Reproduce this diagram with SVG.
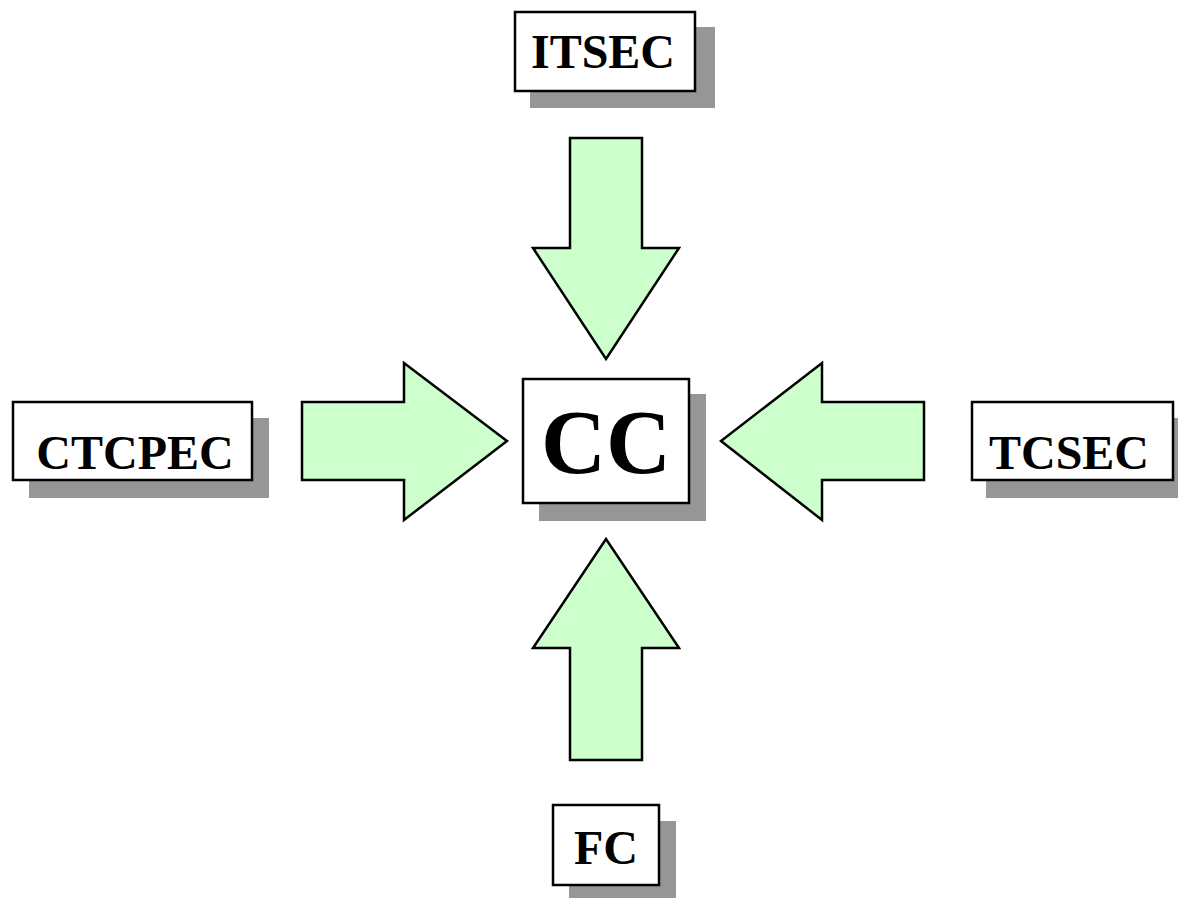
<svg xmlns="http://www.w3.org/2000/svg" width="1178" height="898" viewBox="0 0 1178 898">
<style>
.shadow{fill:#969696;stroke:none}
.box{fill:#ffffff;stroke:#000000;stroke-width:2.5}
.lbl{font-family:"Liberation Serif","Times New Roman",serif;font-weight:bold;font-size:48px;fill:#000000;text-anchor:middle}
.big{font-size:90px}
.arrow{fill:#CCFFCC;stroke:#000000;stroke-width:2.5;stroke-linejoin:miter}
</style>
<rect x="0" y="0" width="1178" height="898" fill="#ffffff"/>
<g id="connectors">
<polygon class="arrow" points="570,138 642,138 642,248 679,248 606,359 533,248 570,248"/>
<polygon class="arrow" points="570,760 642,760 642,648 679,648 606,539 533,648 570,648"/>
<polygon class="arrow" points="302,402 404,402 404,363 507,441 404,520 404,480 302,480"/>
<polygon class="arrow" points="924,402 822,402 822,363 721,441 822,520 822,480 924,480"/>
</g>
<g id="ITSEC">
<rect class="shadow" x="530" y="27" width="185" height="81"/>
<rect class="box" x="515" y="12" width="180" height="79"/>
<text class="lbl" x="603" y="68">ITSEC</text>
</g>
<g id="CC">
<rect class="shadow" x="539" y="394" width="167" height="127"/>
<rect class="box" x="523" y="379" width="166" height="124"/>
<text class="lbl big" x="606" y="473">CC</text>
</g>
<g id="CTCPEC">
<rect class="shadow" x="29" y="418" width="240" height="80"/>
<rect class="box" x="13" y="402" width="239" height="78"/>
<text class="lbl" x="135" y="469">CTCPEC</text>
</g>
<g id="TCSEC">
<rect class="shadow" x="986" y="418" width="210" height="80"/>
<rect class="box" x="972" y="402" width="201" height="78"/>
<text class="lbl" x="1069" y="469">TCSEC</text>
</g>
<g id="FC">
<rect class="shadow" x="569" y="821" width="107" height="80"/>
<rect class="box" x="553" y="805" width="106" height="80"/>
<text class="lbl" x="606" y="864">FC</text>
</g>
</svg>
